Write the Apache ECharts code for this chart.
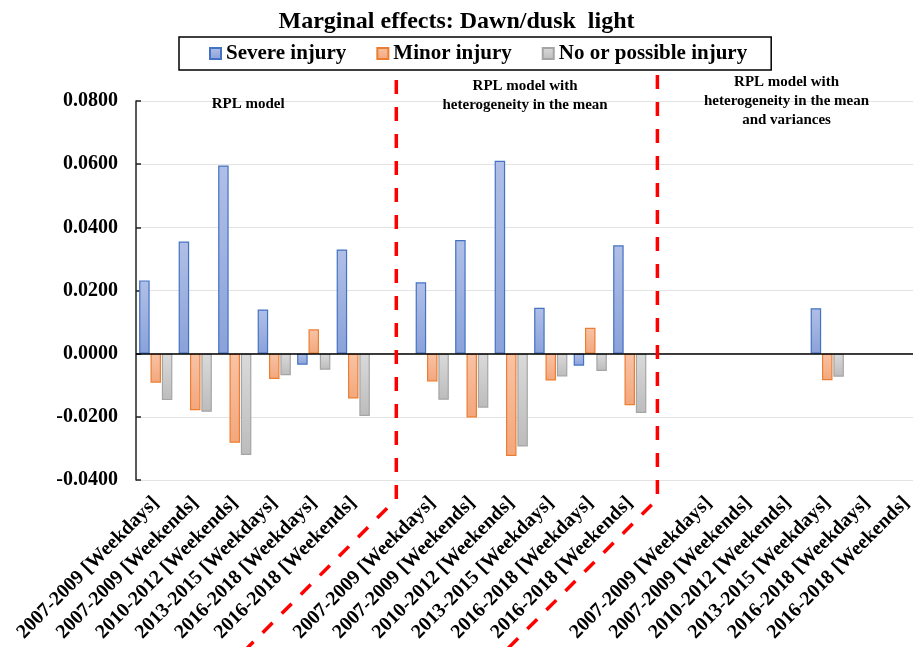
<!DOCTYPE html>
<html>
<head>
<meta charset="utf-8">
<script src="https://cdn.jsdelivr.net/npm/echarts@6/dist/echarts.min.js"></script>
<style>
html,body{margin:0;padding:0;background:#fff;}
#c{width:913px;height:647px;}
</style>
</head>
<body>
<div id="c"></div>
<script>
var categories = [
  '2007-2009 [Weekdays]', '2007-2009 [Weekends]', '2010-2012 [Weekends]', '2013-2015 [Weekdays]', '2016-2018 [Weekdays]', '2016-2018 [Weekends]',
  '',
  '2007-2009 [Weekdays]', '2007-2009 [Weekends]', '2010-2012 [Weekends]', '2013-2015 [Weekdays]', '2016-2018 [Weekdays]', '2016-2018 [Weekends]',
  '',
  '2007-2009 [Weekdays]', '2007-2009 [Weekends]', '2010-2012 [Weekends]', '2013-2015 [Weekdays]', '2016-2018 [Weekdays]', '2016-2018 [Weekends]'
];
var severe = [0.0232, 0.0355, 0.0596, 0.0140, -0.0035, 0.0330, null,
              0.0226, 0.0360, 0.0611, 0.0145, -0.0038, 0.0343, null,
              null, null, null, 0.0144, null, null];
var minor = [-0.0092, -0.0179, -0.0282, -0.0080, 0.0077, -0.0142, null,
             -0.0088, -0.0202, -0.0324, -0.0085, 0.0082, -0.0163, null,
             null, null, null, -0.0084, null, null];
var noInjury = [-0.0147, -0.0184, -0.0321, -0.0068, -0.0051, -0.0197, null,
                -0.0146, -0.0171, -0.0294, -0.0072, -0.0055, -0.0188, null,
                null, null, null, -0.0073, null, null];
var seriesNames = ['Severe injury', 'Minor injury', 'No or possible injury'];
var yTicks = {min: -0.04, max: 0.08, interval: 0.02};
var modelLabels = [
  'RPL model',
  'RPL model with\nheterogeneity in the mean',
  'RPL model with\nheterogeneity in the mean\nand variances'
];
var separatorPos = [6.59, 13.2];
var labelCenters = [2.84, 9.85, 16.47];

var FONT = "'Liberation Serif', 'Times New Roman', serif";
function grad(top, bottom) {
  return new echarts.graphic.LinearGradient(0, 0, 0, 1, [
    {offset: 0, color: top}, {offset: 1, color: bottom}
  ]);
}
var styles = [
  {color: grad('#b0bfe6', '#8aa2da'), borderColor: '#4472c4', borderWidth: 1.2},
  {color: grad('#f8c3a5', '#f3a77c'), borderColor: '#ed7d31', borderWidth: 1.2},
  {color: grad('#dadada', '#bcbcbc'), borderColor: '#a5a5a5', borderWidth: 1.2}
];

var chart = echarts.init(document.getElementById('c'), null, {renderer: 'canvas'});
function mkSeries(name, data, st, extra) {
  var s = {
    name: name, type: 'bar', data: data,
    barWidth: 10.5, barGap: '8%',
    itemStyle: st
  };
  if (extra) for (var k in extra) s[k] = extra[k];
  return s;
}
var option = {
  animation: false,
  backgroundColor: '#fff',
  title: {
    text: 'Marginal effects: Dawn/dusk  light',
    left: 'center', top: 5,
    textStyle: {fontFamily: FONT, fontWeight: 'bold', fontSize: 24, color: '#000'}
  },
  legend: {
    data: seriesNames,
    left: 179, top: 37,
    borderColor: '#000', borderWidth: 1.5,
    padding: [6, 24, 6, 30],
    itemWidth: 11, itemHeight: 11, itemGap: 30,
    icon: 'rect',
    textStyle: {fontFamily: FONT, fontWeight: 'bold', fontSize: 21, color: '#000'}
  },
  grid: {left: 136, width: 790, top: 101, height: 379, containLabel: false, outerBoundsMode: 'none'},
  xAxis: {
    type: 'category', data: categories,
    position: 'bottom',
    axisLine: {show: false, onZero: false},
    axisTick: {show: false},
    axisLabel: {
      interval: 0, rotate: 45, margin: 20,
      fontFamily: FONT, fontWeight: 'bold', fontSize: 20, color: '#000'
    },
    splitLine: {show: false}
  },
  yAxis: {
    type: 'value', min: yTicks.min, max: yTicks.max, interval: yTicks.interval,
    axisLine: {show: true, lineStyle: {color: '#222', width: 1.5}},
    axisTick: {show: true, inside: true, length: 5, lineStyle: {color: '#222', width: 1.5}},
    axisLabel: {
      margin: 18,
      formatter: function (v) { return v.toFixed(4); },
      fontFamily: FONT, fontWeight: 'bold', fontSize: 20, color: '#000'
    },
    splitLine: {show: true, lineStyle: {color: '#e3e3e3', width: 1}}
  },
  series: [
    mkSeries(seriesNames[0], severe, styles[0]),
    mkSeries(seriesNames[1], minor, styles[1]),
    mkSeries(seriesNames[2], noInjury, styles[2], {
      markLine: {
        silent: true, symbol: 'none', label: {show: false},
        lineStyle: {color: '#000', width: 1.5, type: 'solid'},
        data: [{yAxis: 0}]
      }
    })
  ]
};
chart.setOption(option);

// annotations derived from axes
var c0 = chart.convertToPixel({xAxisIndex: 0}, 0);
var c1 = chart.convertToPixel({xAxisIndex: 0}, 1);
var band = c1 - c0;
var gridLeft = c0 - band / 2;
var yTop = chart.convertToPixel({yAxisIndex: 0}, yTicks.max);
var yBot = chart.convertToPixel({yAxisIndex: 0}, yTicks.min);
var graphics = [];
var tops = [yTop - 21, yTop - 26];
separatorPos.forEach(function (p, i) {
  var x = gridLeft + p * band;
  var bendY = yBot + 19;
  graphics.push({
    type: 'polyline', silent: true, z: 100,
    shape: {points: [[x, tops[i]], [x, bendY], [x - 160, bendY + 160]]},
    style: {stroke: '#ff0000', lineWidth: 3.5, lineDash: [14, 13], fill: null}
  });
});
var labelTops = [yTop - 6, yTop - 24, yTop - 28];
modelLabels.forEach(function (t, i) {
  graphics.push({
    type: 'text', silent: true, z: 101,
    x: gridLeft + labelCenters[i] * band,
    y: labelTops[i],
    style: {
      text: t, align: 'center', verticalAlign: 'top',
      font: 'bold 15px ' + FONT, fill: '#000', lineHeight: 19
    }
  });
});
chart.setOption({graphic: graphics});
</script>
</body>
</html>
